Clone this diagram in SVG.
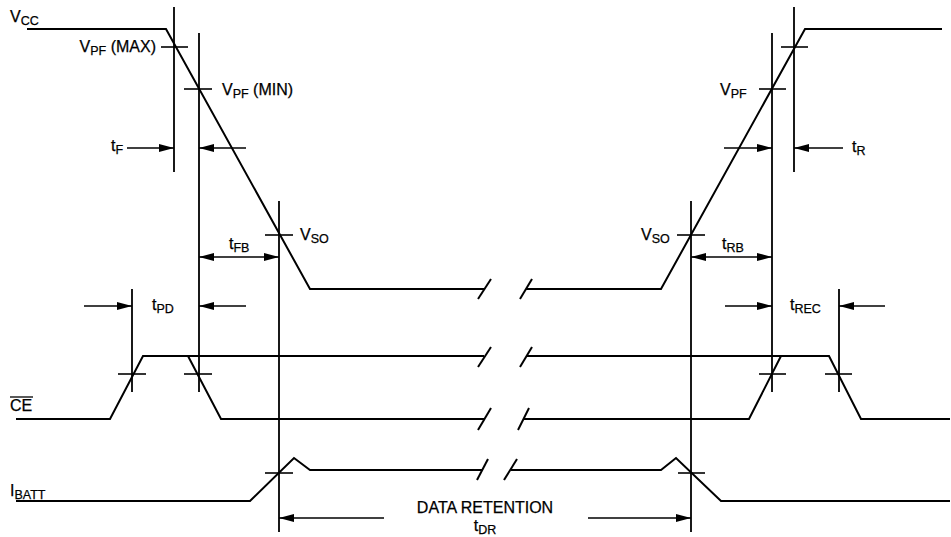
<svg xmlns="http://www.w3.org/2000/svg" width="951" height="537" viewBox="0 0 951 537">
<defs>
<marker id="ah" markerUnits="userSpaceOnUse" markerWidth="16" markerHeight="10" refX="15" refY="5" orient="auto">
<path d="M0,1 L15,5 L0,9 Z" fill="#000"/>
</marker>
<marker id="ahs" markerUnits="userSpaceOnUse" markerWidth="16" markerHeight="10" refX="15" refY="5" orient="auto-start-reverse">
<path d="M0,1 L15,5 L0,9 Z" fill="#000"/>
</marker>
</defs>
<style>
.w{fill:none;stroke:#000;stroke-width:2;stroke-linejoin:miter}
.v{fill:none;stroke:#000;stroke-width:1.8}
.t{fill:none;stroke:#000;stroke-width:1.6}
.a{fill:none;stroke:#000;stroke-width:1.6}
text{font-family:"Liberation Sans",Arial,Helvetica,sans-serif;font-size:16px;fill:#000;stroke:#000;stroke-width:0.25}
.s{font-size:12.5px}
</style>
<rect width="951" height="537" fill="#fff"/>

<g id="vcc">
<polyline class="w" points="27,29 166,29 310,289 484,289"/>
<line class="w" x1="478" y1="299" x2="491" y2="279"/>
<line class="w" x1="520" y1="299" x2="532" y2="279"/>
<polyline class="w" points="526,289 661,289 805,29 942,29"/>
</g>

<g id="ce">
<polyline class="w" points="16,419 110,419 143,356 484,356"/>
<polyline class="w" points="188,356 221,419 484,419"/>
<line class="w" x1="478" y1="367" x2="491" y2="347"/>
<line class="w" x1="520" y1="367" x2="532" y2="347"/>
<line class="w" x1="478" y1="430" x2="491" y2="408"/>
<line class="w" x1="518" y1="430" x2="529" y2="408"/>
<polyline class="w" points="526,356 829,356 861,419 950,419"/>
<polyline class="w" points="523,419 749,419 781,356"/>
</g>

<g id="ibatt">
<polyline class="w" points="16,501 250,501 294,458 310,470 483,470"/>
<line class="w" x1="477" y1="480" x2="488" y2="459"/>
<line class="w" x1="504" y1="480" x2="517" y2="459"/>
<polyline class="w" points="511,470 661,470 676,458 721,501 950,501"/>
</g>

<g id="reference-lines">
<line class="v" x1="174" y1="7" x2="174" y2="172"/>
<line class="v" x1="199" y1="33" x2="199" y2="392"/>
<line class="v" x1="279" y1="201" x2="279" y2="532"/>
<line class="v" x1="132" y1="289" x2="132" y2="392"/>
<line class="v" x1="794" y1="7" x2="794" y2="172"/>
<line class="v" x1="772" y1="33" x2="772" y2="392"/>
<line class="v" x1="691" y1="201" x2="691" y2="532"/>
<line class="v" x1="839" y1="289" x2="839" y2="392"/>
</g>

<g id="ticks">
<line class="t" x1="161" y1="47" x2="188" y2="47"/>
<line class="t" x1="184" y1="89" x2="212" y2="89"/>
<line class="t" x1="265" y1="235" x2="293" y2="235"/>
<line class="t" x1="118" y1="374" x2="146" y2="374"/>
<line class="t" x1="184" y1="374" x2="212" y2="374"/>
<line class="t" x1="265" y1="473" x2="293" y2="473"/>
<line class="t" x1="781" y1="47" x2="808" y2="47"/>
<line class="t" x1="759" y1="89" x2="786" y2="89"/>
<line class="t" x1="677" y1="235" x2="705" y2="235"/>
<line class="t" x1="759" y1="374" x2="786" y2="374"/>
<line class="t" x1="825" y1="374" x2="852" y2="374"/>
<line class="t" x1="678" y1="473" x2="705" y2="473"/>
</g>

<g id="connectors">
<line class="a" x1="127" y1="148" x2="174" y2="148" marker-end="url(#ah)"/>
<line class="a" x1="246" y1="148" x2="199" y2="148" marker-end="url(#ah)"/>
<line class="a" x1="199" y1="257" x2="279" y2="257" marker-start="url(#ahs)" marker-end="url(#ahs)"/>
<line class="a" x1="84" y1="306" x2="132" y2="306" marker-end="url(#ah)"/>
<line class="a" x1="246" y1="306" x2="199" y2="306" marker-end="url(#ah)"/>
<line class="a" x1="724" y1="148" x2="772" y2="148" marker-end="url(#ah)"/>
<line class="a" x1="843" y1="148" x2="794" y2="148" marker-end="url(#ah)"/>
<line class="a" x1="691" y1="257" x2="772" y2="257" marker-start="url(#ahs)" marker-end="url(#ahs)"/>
<line class="a" x1="725" y1="306" x2="772" y2="306" marker-end="url(#ah)"/>
<line class="a" x1="885" y1="306" x2="839" y2="306" marker-end="url(#ah)"/>
<line class="a" x1="384" y1="518" x2="279" y2="518" marker-end="url(#ah)"/>
<line class="a" x1="588" y1="518" x2="691" y2="518" marker-end="url(#ah)"/>
</g>

<g id="labels">
<text x="10" y="22">V<tspan class="s" dy="3">CC</tspan></text>
<text x="156" y="52" text-anchor="end">V<tspan class="s" dy="3">PF</tspan><tspan dy="-3"> (MAX)</tspan></text>
<text x="222" y="95">V<tspan class="s" dy="3">PF</tspan><tspan dy="-3"> (MIN)</tspan></text>
<text x="111" y="151">t<tspan class="s" dy="3">F</tspan></text>
<text x="229" y="249">t<tspan class="s" dy="3">FB</tspan></text>
<text x="300" y="240">V<tspan class="s" dy="3">SO</tspan></text>
<text x="152" y="310">t<tspan class="s" dy="3">PD</tspan></text>
<text x="720" y="95">V<tspan class="s" dy="3">PF</tspan></text>
<text x="852" y="152">t<tspan class="s" dy="3">R</tspan></text>
<text x="641" y="240">V<tspan class="s" dy="3">SO</tspan></text>
<text x="722" y="249">t<tspan class="s" dy="3">RB</tspan></text>
<text x="790" y="310">t<tspan class="s" dy="3">REC</tspan></text>
<text x="10" y="411">CE</text>
<line x1="10" y1="397" x2="33" y2="397" stroke="#000" stroke-width="1.3"/>
<text x="10" y="496">I<tspan class="s" dy="3">BATT</tspan></text>
<text x="485" y="513" text-anchor="middle">DATA RETENTION</text>
<text x="485" y="531" text-anchor="middle">t<tspan class="s" dy="3">DR</tspan></text>
</g>
</svg>
